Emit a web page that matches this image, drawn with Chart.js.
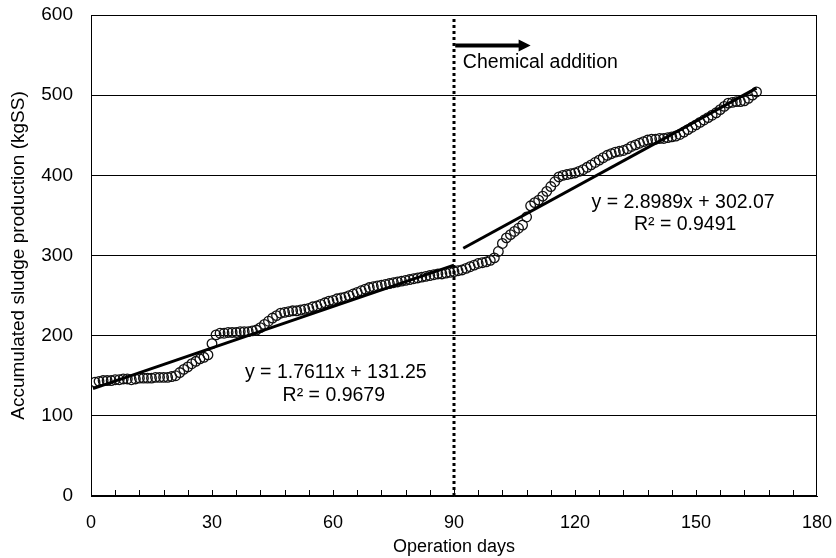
<!DOCTYPE html>
<html><head><meta charset="utf-8">
<script src="https://cdn.jsdelivr.net/npm/chart.js@4/dist/chart.umd.min.js"></script>
<style>html,body{margin:0;padding:0;background:#fff}#wrap{width:836px;height:558px}</style>
</head><body><div id="wrap"><canvas id="c" width="836" height="558"></canvas></div>
<script>
const days = [1,2,3,4,5,6,7,8,9,10,11,12,13,14,15,16,17,18,19,20,21,22,23,24,25,26,27,28,29,30,
31,32,33,34,35,36,37,38,39,40,41,42,43,44,45,46,47,48,49,50,51,52,53,54,55,56,57,58,59,60,
61,62,63,64,65,66,67,68,69,70,71,72,73,74,75,76,77,78,79,80,81,82,83,84,85,86,87,88,89,90,
91,92,93,94,95,96,97,98,99,100,101,102,103,104,105,106,107,108,109,110,111,112,113,114,115,116,117,118,119,120,
121,122,123,124,125,126,127,128,129,130,131,132,133,134,135,136,137,138,139,140,141,142,143,144,145,146,147,148,149,150,
151,152,153,154,155,156,157,158,159,160,161,162,163,164,165];
const sludge = [142,143,144,144,144,145,145,146,146,145,146,147,147,147,147,148,148,148,148,149,150,154,158,161,165,168,171,173,176,190,
201,203,203,204,204,204,205,205,205,206,207,210,214,218,222,225,228,229,230,231,231,232,233,234,236,237,239,241,243,244,
246,247,248,250,252,254,256,258,260,261,262,263,264,265,266,267,268,269,270,271,272,273,274,275,276,277,277,278,279,280,
281,282,284,286,288,290,291,292,294,297,305,315,322,326,330,334,338,348,362,366,369,374,380,386,392,398,400,401,402,403,
405,407,410,413,416,419,422,425,427,429,430,431,433,436,438,440,442,444,445,445,446,446,447,448,449,451,454,457,460,463,
466,469,472,475,478,482,486,490,491,492,492,493,496,500,504];
const xTicks = [0,30,60,90,120,150,180];
const yTicks = [0,100,200,300,400,500,600];
// trend lines: equation constants, the day span each covers and the equation's own x at those days
const fit1 = {slope:1.7611, intercept:131.25, dayFrom:0.5, dayTo:90, xFrom:1.5, xTo:89, label:'y = 1.7611x + 131.25', r2:'R² = 0.9679'};
const fit2 = {slope:2.8989, intercept:302.07, dayFrom:92.3, dayTo:165, xFrom:2.4, xTo:71.3, label:'y = 2.8989x + 302.07', r2:'R² = 0.9491'};
const chemicalDay = 90;
const arrowLabel = 'Chemical addition';

const pts = days.map((d,i)=>({x:d,y:sludge[i]}));
const fitLine = f => [{x:f.dayFrom, y:f.slope*f.xFrom+f.intercept},{x:f.dayTo, y:f.slope*f.xTo+f.intercept}];

const FONT = "'Liberation Sans', Arial, sans-serif";

const deco = {
  id:'deco',
  afterDraw(chart){
    const {ctx, chartArea:a, scales:{x,y}} = chart;
    ctx.save();
    ctx.strokeStyle='#000'; ctx.lineWidth=1;
    ctx.strokeRect(a.left+0.5, a.top+0.5, a.right-a.left-1, a.bottom-a.top-1);
    ctx.beginPath();
    for(let v=6; v<180; v+=6){
      const px = Math.round(x.getPixelForValue(v))+0.5;
      ctx.moveTo(px, a.bottom); ctx.lineTo(px, a.bottom-6);
    }
    ctx.stroke();
    const ay = y.getPixelForValue(562);
    const ax0 = x.getPixelForValue(90.3), ax1 = x.getPixelForValue(109);
    ctx.lineWidth=4; ctx.beginPath(); ctx.moveTo(ax0, ay); ctx.lineTo(ax1-10, ay); ctx.stroke();
    ctx.fillStyle='#000'; ctx.beginPath();
    ctx.moveTo(ax1, ay); ctx.lineTo(ax1-12, ay-6); ctx.lineTo(ax1-12, ay+6); ctx.closePath(); ctx.fill();
    ctx.fillStyle='#000'; ctx.font = "19.5px "+FONT; ctx.textBaseline='middle';
    ctx.textAlign='left';
    ctx.fillText(arrowLabel, x.getPixelForValue(92.2), y.getPixelForValue(540));
    ctx.textAlign='center';
    ctx.fillText(fit2.label, x.getPixelForValue(146.8), y.getPixelForValue(366));
    ctx.fillText(fit2.r2, x.getPixelForValue(147.3), y.getPixelForValue(338));
    ctx.fillText(fit1.label, x.getPixelForValue(60.7), y.getPixelForValue(153.5));
    ctx.fillText(fit1.r2, x.getPixelForValue(60.2), y.getPixelForValue(125));
    ctx.restore();
  }
};

new Chart(document.getElementById('c'), {
  type:'scatter',
  data:{datasets:[
    {label:'trend1', type:'line', data:fitLine(fit1), borderColor:'#000', borderWidth:3, pointRadius:0, order:1},
    {label:'trend2', type:'line', data:fitLine(fit2), borderColor:'#000', borderWidth:3, pointRadius:0, order:1},
    {label:'chem', type:'line', data:[{x:chemicalDay,y:0},{x:chemicalDay,y:600}], borderColor:'#000', borderWidth:3, borderDash:[3,3], pointRadius:0, order:1},
    {label:'sludge', data:pts, pointRadius:4.8, pointHoverRadius:4.8, borderWidth:1.3, borderColor:'#111', backgroundColor:'rgba(255,255,255,0)', order:2}
  ]},
  options:{
    responsive:false, animation:false, devicePixelRatio:1,
    layout:{padding:{top:15, right:19, left:0, bottom:0}},
    plugins:{legend:{display:false}, tooltip:{enabled:false}},
    scales:{
      x:{type:'linear', min:0, max:180,
        afterBuildTicks(s){ s.ticks = xTicks.map(v=>({value:v})); },
        afterFit(s){ s.height = 62; s.paddingLeft = 0; s.paddingRight = 0; },
        grid:{display:false, drawTicks:false},
        border:{display:true, color:'#000', width:1},
        ticks:{color:'#000', font:{size:18, family:FONT}, padding:16, maxRotation:0},
        title:{display:true, text:'Operation days', color:'#000', font:{size:18, family:FONT}, padding:{top:0,bottom:0}}
      },
      y:{min:0, max:600,
        afterBuildTicks(s){ s.ticks = yTicks.map(v=>({value:v})); },
        afterFit(s){ s.width = 91; s.paddingTop = 0; s.paddingBottom = 0; },
        grid:{color:'#000', lineWidth:1, drawTicks:false},
        border:{display:true, color:'#000', width:1},
        ticks:{color:'#000', font:{size:19, family:FONT}, padding:18},
        title:{display:true, text:'Accumulated sludge production (kgSS)', color:'#000', font:{size:19, family:FONT}, padding:{top:7,bottom:0}}
      }
    }
  },
  plugins:[deco]
});
</script></body></html>
